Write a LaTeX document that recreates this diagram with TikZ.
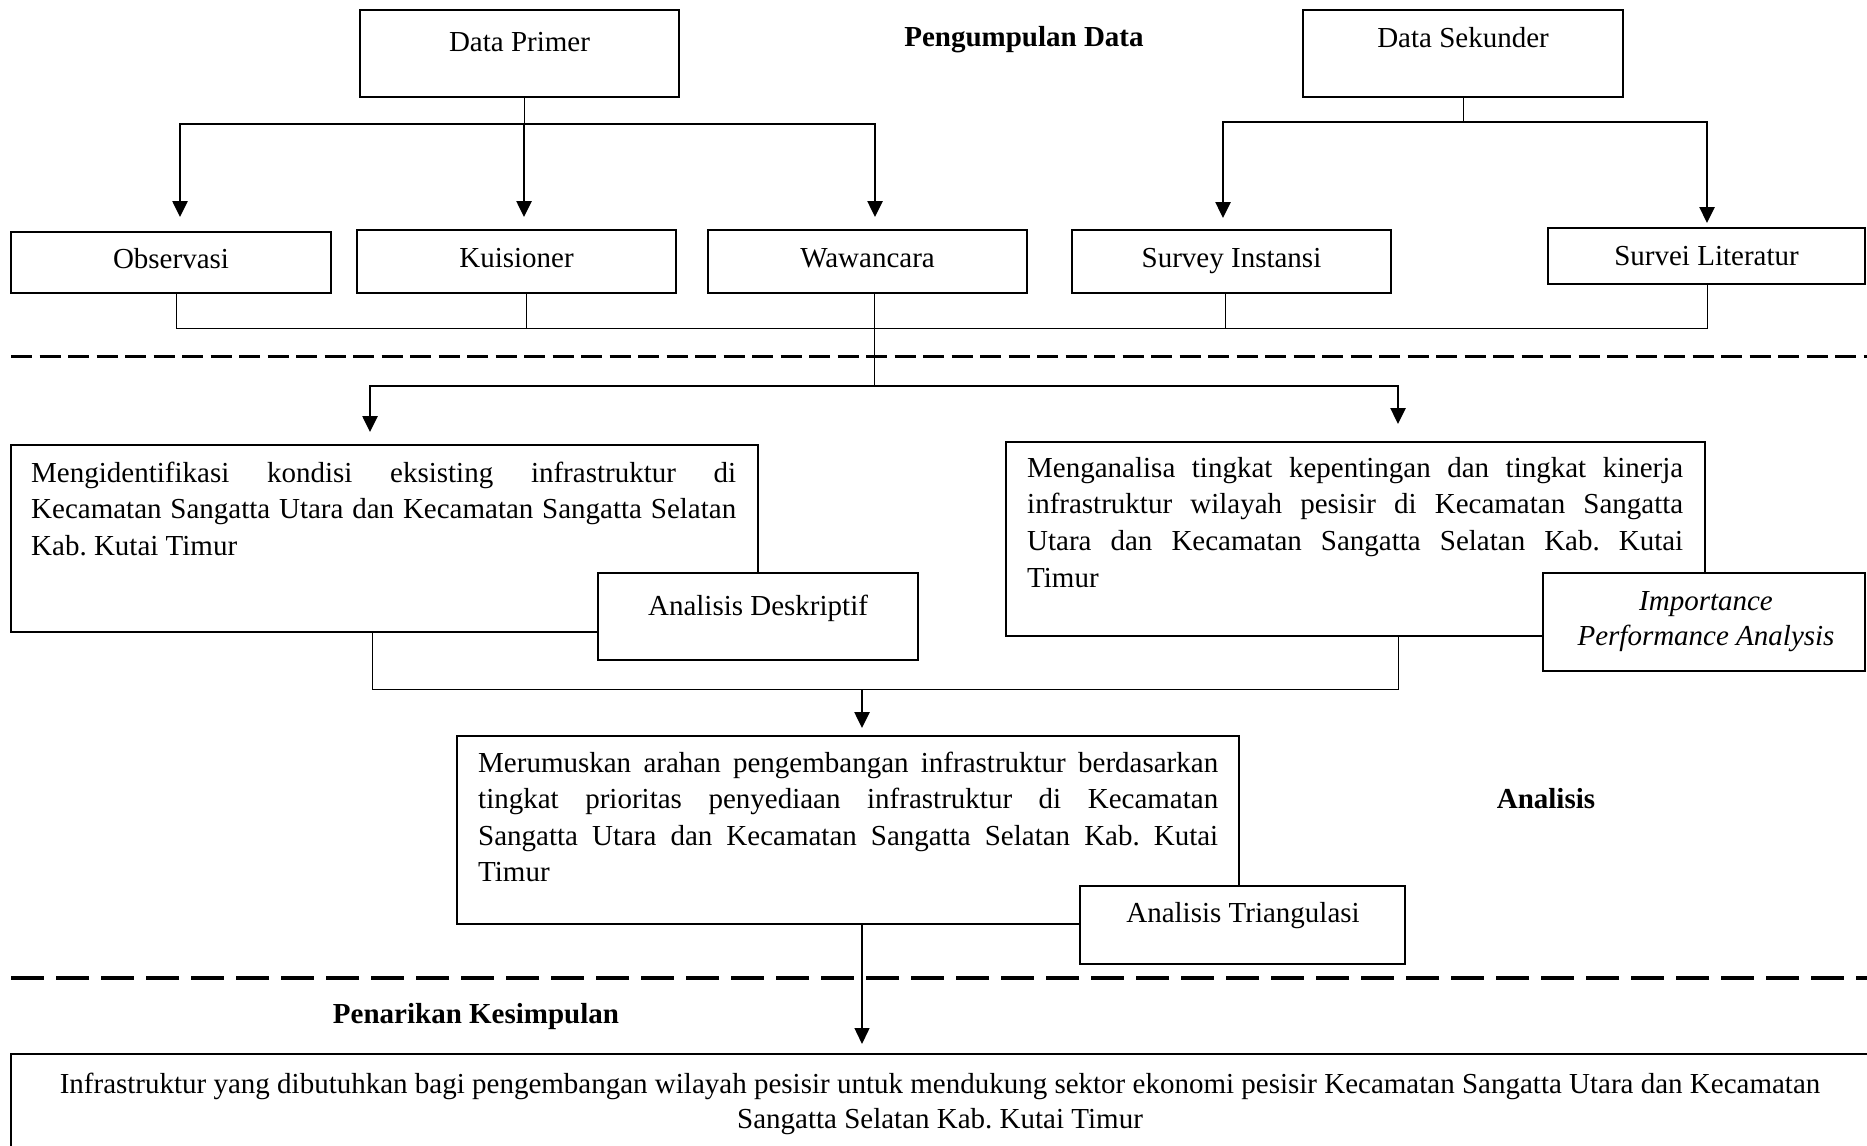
\documentclass[tikz,border=0pt]{standalone}
\usepackage{fontspec}
\setmainfont{Liberation Serif}
\usetikzlibrary{arrows.meta}
\newcommand{\bodyfont}{\fontsize{29}{36.5}\selectfont}
\frenchspacing
\begin{document}
\begin{tikzpicture}[x=1pt,y=-1pt,
  box/.style={draw, line width=2.4pt, fill=white, inner sep=0pt, rectangle},
  txt/.style={inner sep=0pt, font=\bodyfont, anchor=base},
  lbl/.style={inner sep=0pt, font=\bodyfont\bfseries, anchor=base},
  jl/.style={inner sep=0pt, font=\bodyfont, anchor=base west},
  thinln/.style={line width=1pt},
  thickln/.style={line width=2.6pt},
  arrowtip/.style={-{Triangle[length=16pt,width=15pt]}},
  sepA/.style={line width=3pt, dash pattern=on 21pt off 7.5pt},
  sepB/.style={line width=3.5pt, dash pattern=on 33pt off 12pt}
]
\useasboundingbox (0,0) rectangle (1867,1145);

% coordinates
\coordinate (pj) at (524,124);
\coordinate (pa1) at (180,217);
\coordinate (pa2) at (524,217);
\coordinate (pa3) at (875,217);
\coordinate (sj) at (1463,122);
\coordinate (sa1) at (1223,218);
\coordinate (sa2) at (1707,223);
\coordinate (c1) at (176,328);
\coordinate (c2) at (526,328);
\coordinate (c3) at (874,328);
\coordinate (c4) at (1225,328);
\coordinate (c5) at (1707,328);
\coordinate (sp) at (874,386);
\coordinate (la) at (370,432);
\coordinate (ra) at (1398,424);
\coordinate (m1) at (372,689);
\coordinate (m2) at (1398,689);
\coordinate (mj) at (862,689);
\coordinate (ma) at (862,728);
\coordinate (fa) at (862,1044);
\coordinate (d1l) at (11,356);
\coordinate (d1r) at (1867,356);
\coordinate (d2l) at (11,978);
\coordinate (d2r) at (1867,978);

% boxes
\path
  node[box, minimum width=319pt, minimum height=87pt] (dp) at (519.5,53.5) {}
  node[box, minimum width=320pt, minimum height=87pt] (ds) at (1463,53.5) {}
  node[box, minimum width=320pt, minimum height=61pt] (obs) at (171,262.5) {}
  node[box, minimum width=319pt, minimum height=63pt] (kui) at (516.5,261.5) {}
  node[box, minimum width=319pt, minimum height=63pt] (waw) at (867.5,261.5) {}
  node[box, minimum width=319pt, minimum height=63pt] (svi) at (1231.5,261.5) {}
  node[box, minimum width=317pt, minimum height=56pt] (svl) at (1706.5,256) {};

% connectors top
\draw[thinln] (dp.south -| pj) -- (pj);
\draw[thickln, arrowtip] (pj) -| (pa1);
\draw[thickln, arrowtip] (pj) -| (pa3);
\draw[thickln, arrowtip] (pj) -- (pa2);
\draw[thinln] (ds.south -| sj) -- (sj);
\draw[thickln, arrowtip] (sj) -| (sa1);
\draw[thickln, arrowtip] (sj) -| (sa2);

\draw[thinln] (obs.south -| c1) -- (c1) -- (c5) -- (svl.south -| c5);
\draw[thinln] (kui.south -| c2) -- (c2);
\draw[thinln] (svi.south -| c4) -- (c4);
\draw[thinln] (waw.south -| c3) -- (sp);

\draw[sepA] (d1l) -- (d1r);

\draw[thickln, arrowtip] (sp) -| (la);
\draw[thickln, arrowtip] (sp) -| (ra);

% analysis boxes
\node[box, minimum width=747pt, minimum height=187pt] (idn) at (384.5,538.5) {};
\node[box, minimum width=320pt, minimum height=87pt] (desk) at (758,616.5) {};
\node[box, minimum width=699pt, minimum height=194pt] (ana) at (1355.5,539) {};
\node[box, minimum width=322pt, minimum height=98pt] (ipa) at (1704,622) {};

\draw[thinln] (idn.south -| m1) -- (m1) -- (m2) -- (ana.south -| m2);
\draw[thickln, arrowtip] (mj) -- (ma);

\draw[line width=1.4pt, arrowtip] (mj |- 0,924) -- (fa);
\node[box, minimum width=782pt, minimum height=188pt] (mer) at (848,830) {};
\node[box, minimum width=325pt, minimum height=78pt] (tri) at (1242.5,925) {};

\draw[sepB] (d2l) -- (d2r);

\node[box, minimum width=1874pt, minimum height=111pt] (concl) at (948,1109.5) {};

% texts
\node[txt] (tdp) at (519.5,52) {Data Primer};
\node[lbl] (tpd) at (1024,47) {Pengumpulan Data};
\node[txt] (tds) at (1463,48) {Data Sekunder};
\node[txt] (tobs) at (171,268) {Observasi};
\node[txt] (tkui) at (516.5,267) {Kuisioner};
\node[txt] (twaw) at (867.5,267) {Wawancara};
\node[txt] (tsvi) at (1231.5,267) {Survey Instansi};
\node[txt] (tsvl) at (1706.5,265) {Survei Literatur};

\node[jl] (ti1) at (31,482) {\makebox[705pt][s]{Mengidentifikasi kondisi eksisting infrastruktur di}};
\node[jl] (ti2) at (31,518.5) {\makebox[705pt][s]{Kecamatan Sangatta Utara dan Kecamatan Sangatta Selatan}};
\node[jl] (ti3) at (31,555) {Kab. Kutai Timur};
\node[txt] (tdesk) at (758,615) {Analisis Deskriptif};

\node[jl] (ta1) at (1027,477) {\makebox[656pt][s]{Menganalisa tingkat kepentingan dan tingkat kinerja}};
\node[jl] (ta2) at (1027,513.5) {\makebox[656pt][s]{infrastruktur wilayah pesisir di Kecamatan Sangatta}};
\node[jl] (ta3) at (1027,550) {\makebox[656pt][s]{Utara dan Kecamatan Sangatta Selatan Kab. Kutai}};
\node[jl] (ta4) at (1027,587) {Timur};
\node[txt, font=\bodyfont\itshape] (tipa1) at (1706,610) {Importance};
\node[txt, font=\bodyfont\itshape] (tipa2) at (1706,645) {Performance Analysis};

\node[jl] (tm1) at (478,772) {\makebox[740pt][s]{Merumuskan arahan pengembangan infrastruktur berdasarkan}};
\node[jl] (tm2) at (478,808.5) {\makebox[740pt][s]{tingkat prioritas penyediaan infrastruktur di Kecamatan}};
\node[jl] (tm3) at (478,845) {\makebox[740pt][s]{Sangatta Utara dan Kecamatan Sangatta Selatan Kab. Kutai}};
\node[jl] (tm4) at (478,881.5) {Timur};
\node[txt] (ttri) at (1243,922) {Analisis Triangulasi};

\node[lbl] (tan) at (1546,808) {Analisis};
\node[lbl] (tpk) at (476,1023) {Penarikan Kesimpulan};

\node[txt] (tc1) at (940,1093) {Infrastruktur yang dibutuhkan bagi pengembangan wilayah pesisir untuk mendukung sektor ekonomi pesisir Kecamatan Sangatta Utara dan Kecamatan};
\node[txt] (tc2) at (940,1128) {Sangatta Selatan Kab. Kutai Timur};
\end{tikzpicture}
\end{document}
